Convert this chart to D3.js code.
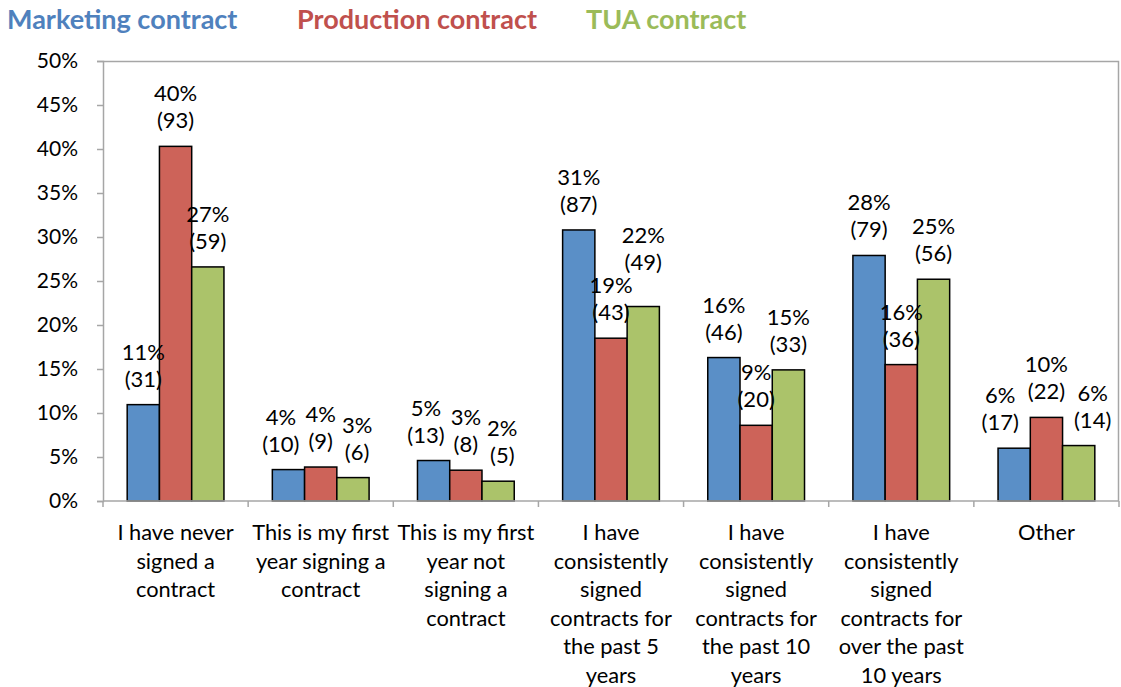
<!DOCTYPE html>
<html>
<head>
<meta charset="utf-8">
<script src="https://cdnjs.cloudflare.com/ajax/libs/d3/7.8.5/d3.min.js"></script>
<style>
  body { margin: 0; background: #fff; }
  text { font-family: Lato, "Open Sans", sans-serif; }
</style>
</head>
<body>
<svg width="1121" height="687"></svg>
<script>
// categories, one array of wrapped lines per category
const categories = [
  ["I have never", "signed a", "contract"],
  ["This is my first", "year signing a", "contract"],
  ["This is my first", "year not", "signing a", "contract"],
  ["I have", "consistently", "signed", "contracts for", "the past 5", "years"],
  ["I have", "consistently", "signed", "contracts for", "the past 10", "years"],
  ["I have", "consistently", "signed", "contracts for", "over the past", "10 years"],
  ["Other"]
];

const seriesNames = ["Marketing contract", "Production contract", "TUA contract"];
const colors = ["#5a8fc7", "#cd6359", "#abc36a"];
const legendColors = ["#4f81bd", "#c0504d", "#9bbb59"];

// bar heights (share, %)
const marketing = [10.95, 3.57, 4.6, 30.8, 16.3, 27.9, 6.0];
const production = [40.3, 3.86, 3.5, 18.5, 8.6, 15.5, 9.5];
const tua = [26.6, 2.66, 2.25, 22.1, 14.9, 25.2, 6.3];

// label texts
const marketingLabels = ["11%", "4%", "5%", "31%", "16%", "28%", "6%"];
const productionLabels = ["40%", "4%", "3%", "19%", "9%", "16%", "10%"];
const tuaLabels = ["27%", "3%", "2%", "22%", "15%", "25%", "6%"];
const marketingCounts = [31, 10, 13, 87, 46, 79, 17];
const productionCounts = [93, 9, 8, 43, 20, 36, 22];
const tuaCounts = [59, 6, 5, 49, 33, 56, 14];

const yTicks = [0, 5, 10, 15, 20, 25, 30, 35, 40, 45, 50];

const values = [marketing, production, tua];
const labels = [marketingLabels, productionLabels, tuaLabels];
const counts = [marketingCounts, productionCounts, tuaCounts];

const svg = d3.select("svg");
const margin = { left: 103, right: 2, top: 61, bottom: 186 };
const width = 1121 - margin.left - margin.right;
const height = 687 - margin.top - margin.bottom;

const g = svg.append("g").attr("transform", `translate(${margin.left},${margin.top})`);

const x = d3.scaleBand().domain(d3.range(categories.length)).range([0, width]);
const xs = d3.scaleBand().domain(d3.range(3)).range([x.bandwidth() / 6, x.bandwidth() * 5 / 6]);
const y = d3.scaleLinear().domain([0, 50]).range([height, 0]);

// plot frame (top and right)
g.append("path")
  .attr("d", `M0,0.5H${width - 0.5}V${height}`)
  .attr("fill", "none")
  .attr("stroke", "#a6a6a6")
  .attr("stroke-width", 1.5);

// y axis
const yAxis = g.append("g")
  .call(d3.axisLeft(y).tickValues(yTicks).tickSize(6).tickFormat(d => d + "%"));
yAxis.select(".domain").attr("stroke", "#a6a6a6").attr("stroke-width", 1.5);
yAxis.selectAll(".tick line").attr("stroke", "#a6a6a6").attr("stroke-width", 1.5);
yAxis.selectAll(".tick text")
  .attr("x", -25)
  .attr("font-size", 21)
  .attr("fill", "#000")
  .style("font-family", "Lato, sans-serif");

// bars
const groups = g.selectAll(".cat")
  .data(categories)
  .enter()
  .append("g")
  .attr("transform", (d, i) => `translate(${x(i)},0)`);

values.forEach(function (vals, s) {
  groups.append("rect")
    .attr("x", (d, i) => xs(s))
    .attr("width", xs.bandwidth())
    .attr("y", (d, i) => y(vals[i]))
    .attr("height", (d, i) => y(0) - y(vals[i]))
    .attr("fill", colors[s])
    .attr("stroke", "#000")
    .attr("stroke-width", 1.5);
});

// x axis
const xAxis = g.append("g").attr("transform", `translate(0,${height})`);
xAxis.append("line")
  .attr("x1", 0).attr("x2", width)
  .attr("stroke", "#a6a6a6").attr("stroke-width", 1.5);
xAxis.selectAll(".xt")
  .data(d3.range(categories.length + 1))
  .enter()
  .append("line")
  .attr("x1", d => d * x.step()).attr("x2", d => d * x.step())
  .attr("y1", 0).attr("y2", 6)
  .attr("stroke", "#a6a6a6").attr("stroke-width", 1.5);

// category labels
categories.forEach(function (lines, i) {
  const t = xAxis.append("text")
    .attr("text-anchor", "middle")
    .attr("font-size", 21.8)
    .attr("fill", "#000");
  lines.forEach(function (line, j) {
    t.append("tspan")
      .attr("x", x(i) + x.bandwidth() / 2)
      .attr("y", 39 + j * 28.5)
      .text(line);
  });
});

// data labels, nudged apart like Excel does when they collide
const lineH = 27;
const pad = 6;
groups.each(function (d, i) {
  const grp = d3.select(this);
  const boxes = values.map(function (vals, s) {
    const cx = xs(s) + xs.bandwidth() / 2;
    const top = y(vals[i]);
    const t = grp.append("text")
      .attr("text-anchor", "middle")
      .attr("font-size", 22)
      .attr("fill", "#000");
    const a = t.append("tspan").text(labels[s][i]);
    const b = t.append("tspan").text("(" + counts[s][i] + ")");
    const w = Math.max(a.node().getComputedTextLength(), b.node().getComputedTextLength());
    return { t, a, b, cx, w, base: top - 18 };
  });
  function overlap(p, q) {
    const ox = Math.min(p.cx + p.w / 2, q.cx + q.w / 2) - Math.max(p.cx - p.w / 2, q.cx - q.w / 2) + pad;
    const oy = Math.min(p.base, q.base) - Math.max(p.base - 2 * lineH, q.base - 2 * lineH);
    return oy > 0 ? ox : 0;
  }
  const mid = boxes[1];
  // blue goes left
  let o = overlap(boxes[0], mid);
  if (o > 0) boxes[0].cx -= Math.min(o, 16);
  // green goes right, or above if too far
  o = overlap(boxes[2], mid);
  if (o > 16) boxes[2].base = Math.min(boxes[2].base, mid.base - 2 * lineH + 4);
  else if (o > 0) boxes[2].cx += o;
  boxes.forEach(function (bx) {
    bx.a.attr("x", bx.cx).attr("y", bx.base - lineH);
    bx.b.attr("x", bx.cx).attr("y", bx.base);
  });
});

// legend
const legendX = [7, 297, 586];
seriesNames.forEach(function (name, s) {
  svg.append("text")
    .attr("x", legendX[s])
    .attr("y", 29)
    .attr("font-size", 27)
    .attr("font-weight", "bold")
    .attr("fill", legendColors[s])
    .text(name);
});
</script>
</body>
</html>
